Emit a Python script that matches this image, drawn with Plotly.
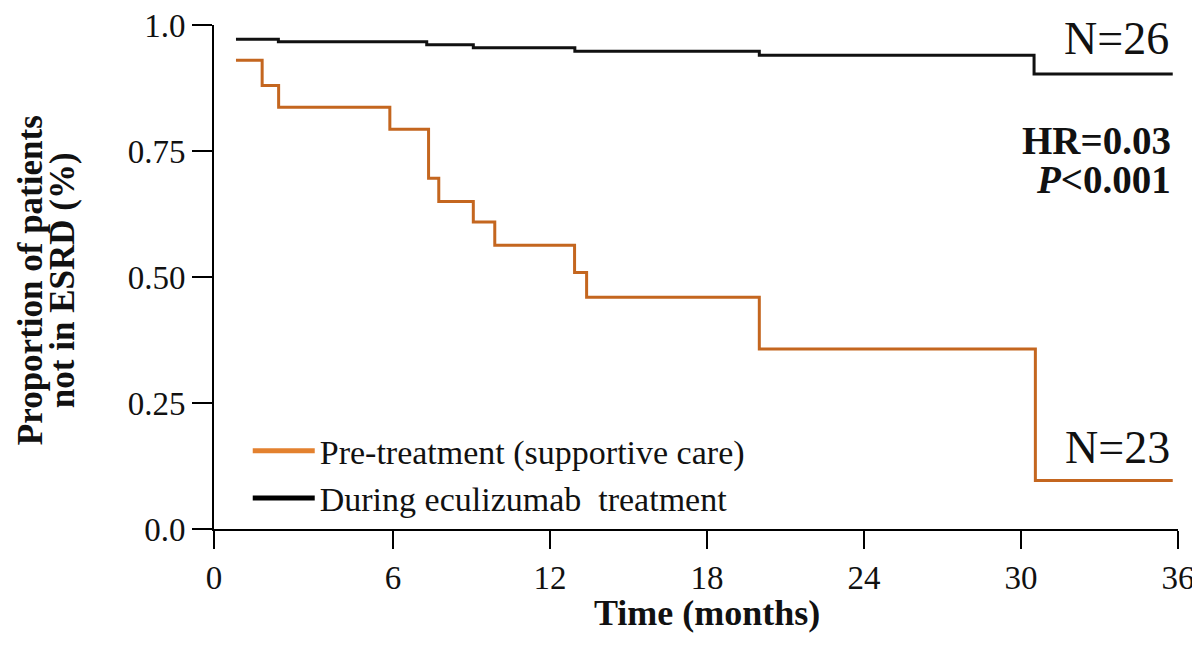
import plotly.graph_objects as go

# ---- data ----
pre_t = [0, 1.0, 1.63, 5.88, 7.36, 7.75, 9.07, 9.89, 12.94, 13.40, 20.0, 30.55, 35.8]
pre_s = [0.930, 0.880, 0.837, 0.793, 0.696, 0.650, 0.609, 0.563, 0.509, 0.460, 0.357, 0.096, 0.096]

ecu_t = [0, 1.62, 7.29, 9.07, 12.95, 20.0, 30.5, 35.8]
ecu_s = [0.972, 0.967, 0.961, 0.955, 0.948, 0.940, 0.903, 0.903]

x_ticks = [0, 6, 12, 18, 24, 30, 36]
x_tick_labels = ["0", "6", "12", "18", "24", "30", "36"]
y_ticks = [0.0, 0.25, 0.5, 0.75, 1.0]
y_tick_labels = ["0.0", "0.25", "0.50", "0.75", "1.0"]

series_names = ["Pre-treatment (supportive care)", "During eculizumab  treatment"]
n_labels = ["N=26", "N=23"]
y_title_lines = ["Proportion of patients", "not in ESRD (%)"]

# ---- style ----
SERIF = "Liberation Serif, Times New Roman, serif"
CURVE_ORANGE = "#C4661F"
LEGEND_ORANGE = "#E3812F"
X_START = -0.84  # axis begins slightly before time 0 (Prism-style offset)

# page body has an 8px margin; size the figure to fit inside the 1200x646 window
W, H = 1192, 638
PLOT_TOP, PLOT_BOTTOM = 17, 520.7   # figure px
PLOT_LEFT, PLOT_RIGHT = 206, 1170


def ypaper(fig_px):
    return (PLOT_BOTTOM - fig_px) / (PLOT_BOTTOM - PLOT_TOP)


def xpaper(fig_px):
    return (fig_px - PLOT_LEFT) / (PLOT_RIGHT - PLOT_LEFT)


fig = go.Figure()

fig.add_trace(go.Scatter(x=pre_t, y=pre_s, mode="lines", line=dict(shape="hv", color=CURVE_ORANGE, width=3),
                         showlegend=False, hoverinfo="skip"))
fig.add_trace(go.Scatter(x=ecu_t, y=ecu_s, mode="lines", line=dict(shape="hv", color="#111111", width=3),
                         showlegend=False, hoverinfo="skip"))
fig.add_trace(go.Scatter(x=[None], y=[None], mode="lines", name=series_names[0],
                         line=dict(color=LEGEND_ORANGE, width=5)))
fig.add_trace(go.Scatter(x=[None], y=[None], mode="lines", name=series_names[1],
                         line=dict(color="#000000", width=5)))

tickvals_x = [X_START] + x_ticks[1:]

fig.update_layout(
    width=W, height=H,
    margin=dict(l=PLOT_LEFT, r=W - PLOT_RIGHT, t=PLOT_TOP, b=H - PLOT_BOTTOM),
    paper_bgcolor="white", plot_bgcolor="white",
    font=dict(family=SERIF, color="#111111", size=33),
    xaxis=dict(range=[X_START, 36.001], tickvals=tickvals_x, ticktext=x_tick_labels, automargin=False,
               showline=True, linecolor="#000", linewidth=2, ticks="outside", ticklen=18,
               tickwidth=2, tickcolor="#000", showgrid=False, zeroline=False,
               ticklabeloverflow="allow",
               tickfont=dict(family=SERIF, size=33, color="#111")),
    yaxis=dict(range=[0, 1.0001], tickvals=y_ticks, ticktext=y_tick_labels, automargin=False,
               showline=True, linecolor="#000", linewidth=2, ticks="outside", ticklen=20,
               tickwidth=2, tickcolor="#000", showgrid=False, zeroline=False,
               ticklabeloverflow="allow",
               tickfont=dict(family=SERIF, size=33, color="#111")),
    legend=dict(x=0.035, y=ypaper(414), xanchor="left", yanchor="top", bgcolor="rgba(0,0,0,0)",
                font=dict(family=SERIF, size=34, color="#111"), tracegroupgap=0,
                itemwidth=62),
    showlegend=True,
)

annos = [
    dict(text="<b>Time (months)</b>", x=18, xref="x", y=ypaper(605), yref="paper", yanchor="middle",
         showarrow=False, font=dict(family=SERIF, size=36, color="#111")),
    dict(text="<b>" + y_title_lines[0] + "</b>", x=xpaper(22), xref="paper", y=ypaper(272), yref="paper",
         textangle=-90, showarrow=False, xanchor="center", yanchor="middle",
         font=dict(family=SERIF, size=35, color="#111")),
    dict(text="<b>" + y_title_lines[1] + "</b>", x=xpaper(54), xref="paper", y=ypaper(272), yref="paper",
         textangle=-90, showarrow=False, xanchor="center", yanchor="middle",
         font=dict(family=SERIF, size=35, color="#111")),
    dict(text=n_labels[0], x=36, xref="x", xshift=-7, y=ypaper(30), yref="paper", xanchor="right", yanchor="middle",
         showarrow=False, font=dict(family=SERIF, size=46, color="#111")),
    dict(text=n_labels[1], x=36, xref="x", xshift=-6, y=ypaper(439), yref="paper", xanchor="right", yanchor="middle",
         showarrow=False, font=dict(family=SERIF, size=46, color="#111")),
    dict(text="<b>HR=0.03</b>", x=36, xref="x", xshift=-5, y=ypaper(132), yref="paper", xanchor="right", yanchor="middle",
         showarrow=False, font=dict(family=SERIF, size=39, color="#111")),
    dict(text="<b><i>P</i>&lt;0.001</b>", x=36, xref="x", xshift=-5, y=ypaper(171), yref="paper", xanchor="right", yanchor="middle",
         showarrow=False, font=dict(family=SERIF, size=39, color="#111")),
]
fig.update_layout(annotations=annos)

fig.write_html("out.html")
